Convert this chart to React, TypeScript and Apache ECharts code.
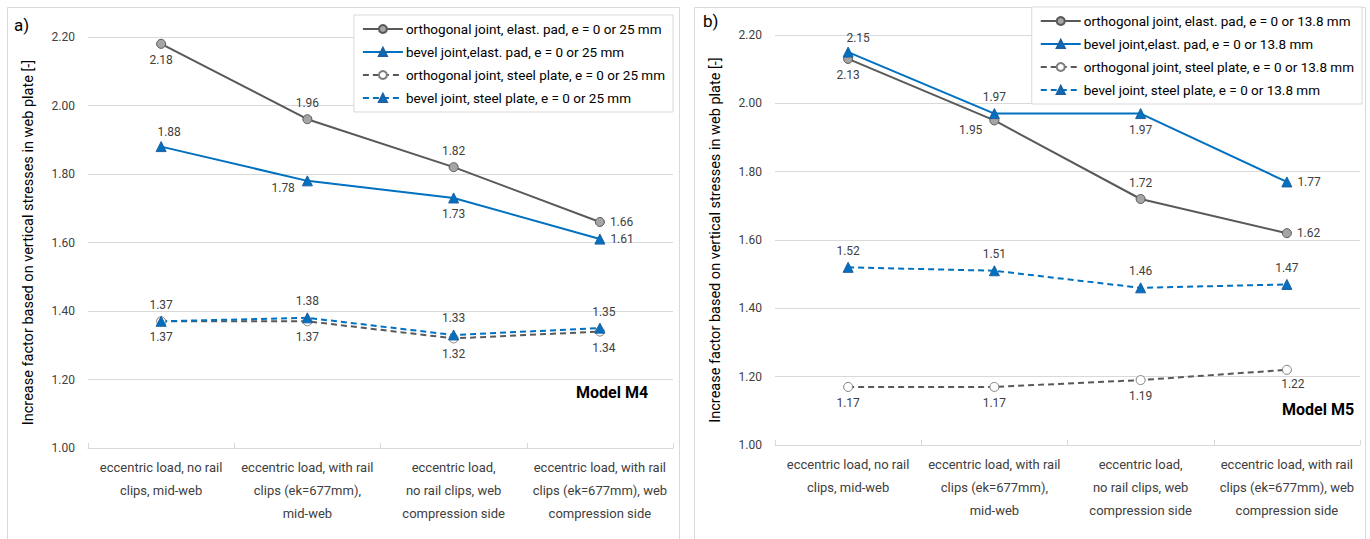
import React, { useEffect, useRef } from "react";
import * as echarts from "echarts";

const categories = [
  "eccentric load, no rail\nclips, mid-web",
  "eccentric load, with rail\nclips (ek=677mm),\nmid-web",
  "eccentric load,\nno rail clips, web\ncompression side",
  "eccentric load, with rail\nclips (ek=677mm), web\ncompression side",
];
const yTicks = [1.0, 1.2, 1.4, 1.6, 1.8, 2.0, 2.2];

// Model M4 (panel a)
const m4OrthElast = [2.18, 1.96, 1.82, 1.66];
const m4BevelElast = [1.88, 1.78, 1.73, 1.61];
const m4OrthSteel = [1.37, 1.37, 1.32, 1.34];
const m4BevelSteel = [1.37, 1.38, 1.33, 1.35];
const m4Names = [
  "orthogonal joint, elast. pad, e = 0 or 25 mm",
  "bevel joint,elast. pad, e = 0 or 25 mm",
  "orthogonal joint, steel plate, e = 0 or 25 mm",
  "bevel joint, steel plate, e = 0 or 25 mm",
];

// Model M5 (panel b)
const m5OrthElast = [2.13, 1.95, 1.72, 1.62];
const m5BevelElast = [2.15, 1.97, 1.97, 1.77];
const m5OrthSteel = [1.17, 1.17, 1.19, 1.22];
const m5BevelSteel = [1.52, 1.51, 1.46, 1.47];
const m5Names = [
  "orthogonal joint, elast. pad, e = 0 or 13.8 mm",
  "bevel joint,elast. pad, e = 0 or 13.8 mm",
  "orthogonal joint, steel plate, e = 0 or 13.8 mm",
  "bevel joint, steel plate, e = 0 or 13.8 mm",
];

const FONT = "Roboto, sans-serif";
const GRAY = "#595959";
const BLUE = "#0070C0";
const TXT = "#404040";

type LP = { pos: string; off?: number[] };

function mkSeries(
  name: string,
  values: number[],
  idx: number,
  kind: "orthElast" | "bevelElast" | "orthSteel" | "bevelSteel",
  labels: LP[]
) {
  const isBlue = kind === "bevelElast" || kind === "bevelSteel";
  const dashed = kind === "orthSteel" || kind === "bevelSteel";
  const tri = isBlue;
  const color = isBlue ? BLUE : GRAY;
  const fill =
    kind === "orthElast" ? "#a5a5a5" : kind === "orthSteel" ? "#ffffff" : BLUE;
  const border = kind === "orthSteel" ? "#7f7f7f" : isBlue ? "#1f5fa0" : "#595959";
  return {
    type: "line",
    name,
    xAxisIndex: idx,
    yAxisIndex: idx,
    symbol: tri ? "triangle" : "circle",
    symbolSize: tri ? 10 : 9,
    z: dashed ? 2 : 3,
    lineStyle: { color, width: 2, type: dashed ? [6, 4] : "solid" },
    itemStyle: { color: fill, borderColor: border, borderWidth: 1 },
    data: values.map((v, i) => ({
      value: v,
      label: {
        show: true,
        position: labels[i].pos,
        offset: labels[i].off || [0, 0],
        formatter: (p: any) => Number(p.value).toFixed(2),
        color: TXT,
        fontFamily: FONT,
        fontSize: 12,
        distance: 5,
      },
    })),
  };
}

function App() {
  const ref = useRef<HTMLDivElement>(null);
  useEffect(() => {
    if (!ref.current) return;
    const chart = echarts.init(ref.current, null, { renderer: "svg" });
    const grids = [
      { left: 88, width: 585, top: 37, height: 411 },
      { left: 775, width: 585, top: 35, height: 410 },
    ];
    const xAxes = grids.map((_, i) => ({
      type: "category",
      gridIndex: i,
      data: categories,
      boundaryGap: true,
      axisLine: { lineStyle: { color: "#d9d9d9", width: 1 } },
      axisTick: { show: true, inside: true, length: 5, lineStyle: { color: "#d9d9d9" } },
      axisLabel: {
        color: TXT,
        fontFamily: FONT,
        fontSize: 13,
        lineHeight: 23,
        margin: 8,
        interval: 0,
      },
    }));
    const yAxes = grids.map((_, i) => ({
      type: "value",
      gridIndex: i,
      min: yTicks[0],
      max: yTicks[yTicks.length - 1],
      interval: 0.2,
      name: "Increase factor based on vertical stresses in web plate [-]",
      nameLocation: "middle",
      nameGap: 52,
      nameRotate: 90,
      nameTextStyle: { color: "#000", fontFamily: FONT, fontSize: 14.5 },
      axisLine: { show: false },
      axisTick: { show: false },
      axisLabel: {
        color: TXT,
        fontFamily: FONT,
        fontSize: 12,
        margin: 13,
        formatter: (v: number) => v.toFixed(2),
      },
      splitLine: { lineStyle: { color: "#d9d9d9", width: 1 } },
    }));

    const series = [
      mkSeries(m4Names[2], m4OrthSteel, 0, "orthSteel", [
        { pos: "bottom" }, { pos: "bottom" }, { pos: "bottom" }, { pos: "bottom", off: [4, 0] },
      ]),
      mkSeries(m4Names[3], m4BevelSteel, 0, "bevelSteel", [
        { pos: "top" }, { pos: "top" }, { pos: "top" }, { pos: "top", off: [4, 0] },
      ]),
      mkSeries(m4Names[0], m4OrthElast, 0, "orthElast", [
        { pos: "bottom" }, { pos: "top" }, { pos: "top" }, { pos: "right" },
      ]),
      mkSeries(m4Names[1], m4BevelElast, 0, "bevelElast", [
        { pos: "top", off: [8, 2] }, { pos: "left", off: [-2, 7] }, { pos: "bottom" }, { pos: "right" },
      ]),
      mkSeries(m5Names[2], m5OrthSteel, 1, "orthSteel", [
        { pos: "bottom" }, { pos: "bottom" }, { pos: "bottom" }, { pos: "bottom", off: [6, -2] },
      ]),
      mkSeries(m5Names[3], m5BevelSteel, 1, "bevelSteel", [
        { pos: "top" }, { pos: "top" }, { pos: "top" }, { pos: "top" },
      ]),
      mkSeries(m5Names[0], m5OrthElast, 1, "orthElast", [
        { pos: "bottom" }, { pos: "left", off: [-2, 10] }, { pos: "top" }, { pos: "right" },
      ]),
      mkSeries(m5Names[1], m5BevelElast, 1, "bevelElast", [
        { pos: "top", off: [10, 2] }, { pos: "top" }, { pos: "bottom" }, { pos: "right" },
      ]),
    ];

    const legendCommon = {
      orient: "vertical",
      backgroundColor: "#ffffff",
      borderColor: "#d9d9d9",
      borderWidth: 1,
      padding: [7, 8, 7, 8],
      itemGap: 9,
      itemWidth: 40,
      itemHeight: 10,
      textStyle: { color: "#000", fontFamily: FONT, fontSize: 13.5, padding: [0, 0, 0, -2] },
    };

    chart.setOption({
      animation: false,
      textStyle: { fontFamily: FONT },
      grid: grids,
      xAxis: xAxes,
      yAxis: yAxes,
      legend: [
        { ...legendCommon, data: m4Names, right: 1370 - 673, top: 15 },
        { ...legendCommon, data: m5Names, right: 8, top: 7 },
      ],
      series,
      graphic: [
        { type: "rect", shape: { x: 7.5, y: 7.5, width: 672, height: 540 }, style: { fill: "none", stroke: "#d9d9d9", lineWidth: 1 }, silent: true, z: -10 },
        { type: "rect", shape: { x: 694.5, y: 7.5, width: 671, height: 540 }, style: { fill: "none", stroke: "#d9d9d9", lineWidth: 1 }, silent: true, z: -10 },
        { type: "text", left: 14, top: 16, style: { text: "a)", fontFamily: FONT, fontSize: 17, fill: "#000" } },
        { type: "text", left: 703, top: 12, style: { text: "b)", fontFamily: FONT, fontSize: 17, fill: "#000" } },
        { type: "text", left: 576, top: 384, style: { text: "Model M4", fontFamily: FONT, fontSize: 16, fontWeight: "bold", fill: "#000" } },
        { type: "text", left: 1282, top: 401, style: { text: "Model M5", fontFamily: FONT, fontSize: 16, fontWeight: "bold", fill: "#000" } },
      ],
    });
    return () => chart.dispose();
  }, []);
  return (
    <div
      ref={ref}
      style={{ position: "fixed", left: 0, top: 0, width: 1370, height: 539, background: "#fff" }}
    />
  );
}

export default App;
